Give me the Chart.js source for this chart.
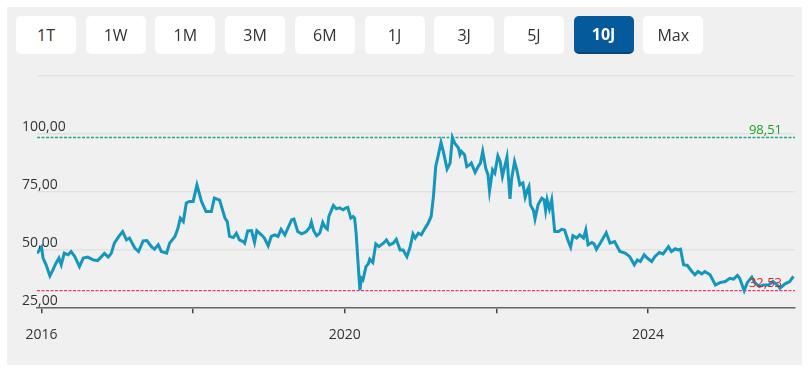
<!DOCTYPE html>
<html lang="de">
<head>
<meta charset="utf-8">
<title>Kursverlauf 10J</title>
<script src="https://cdn.jsdelivr.net/npm/chart.js@4.4.1/dist/chart.umd.min.js"></script>
<style>
    html, body { margin: 0; padding: 0; background: #fff; }
    body { width: 809px; height: 370px; position: relative; overflow: hidden; font-family: "Open Sans", sans-serif; }
    #panel { position: absolute; left: 7px; top: 7px; width: 795px; height: 358px; background: #f0f0f0; }
    #chart { position: absolute; left: 0; top: 0; }
    .range-btn {
        position: absolute; top: 16px; width: 60px; height: 38px;
        background: #fff; border-radius: 5px; color: #333;
        font-size: 16px; line-height: 38px; text-align: center;
    }
    .range-btn.active {
        background: #055a9b; color: #fff; font-weight: 700;
        height: 36px; line-height: 37px; border-bottom: 2px solid #0a4479;
    }
</style>
</head>
<body>
<div id="panel"></div>
<canvas id="chart" width="809" height="370"></canvas>
<div id="buttons"></div>

<script>
// Zeitraum-Buttons
const ranges = ['1T', '1W', '1M', '3M', '6M', '1J', '3J', '5J', '10J', 'Max'];
const activeRange = '10J';

// Kursdaten (Jahr als Dezimalzahl, Kurs)
const years = [
    2015.94, 2016.00, 2016.02, 2016.06, 2016.11, 2016.15, 2016.19, 2016.23, 2016.26, 2016.30,
    2016.35, 2016.39, 2016.44, 2016.50, 2016.55, 2016.61, 2016.68, 2016.74, 2016.79, 2016.83,
    2016.88, 2016.92, 2016.96, 2017.02, 2017.07, 2017.12, 2017.16, 2017.23, 2017.28, 2017.34,
    2017.39, 2017.45, 2017.49, 2017.54, 2017.58, 2017.65, 2017.69, 2017.76, 2017.80, 2017.83,
    2017.87, 2017.91, 2017.95, 2018.00, 2018.05, 2018.11, 2018.17, 2018.24, 2018.28, 2018.35,
    2018.42, 2018.45, 2018.48, 2018.53, 2018.57, 2018.61, 2018.66, 2018.68, 2018.72, 2018.77,
    2018.81, 2018.84, 2018.90, 2018.94, 2018.99, 2019.03, 2019.08, 2019.12, 2019.16, 2019.21,
    2019.25, 2019.30, 2019.33, 2019.38, 2019.43, 2019.49, 2019.54, 2019.56, 2019.59, 2019.63,
    2019.67, 2019.71, 2019.74, 2019.77, 2019.79, 2019.85, 2019.89, 2019.93, 2019.98, 2020.01,
    2020.04, 2020.08, 2020.11, 2020.13, 2020.15, 2020.17, 2020.20, 2020.22, 2020.24, 2020.28,
    2020.31, 2020.33, 2020.37, 2020.41, 2020.45, 2020.51, 2020.55, 2020.59, 2020.64, 2020.68,
    2020.73, 2020.77, 2020.82, 2020.86, 2020.90, 2020.93, 2020.97, 2021.01, 2021.06, 2021.10,
    2021.14, 2021.17, 2021.20, 2021.23, 2021.27, 2021.30, 2021.35, 2021.39, 2021.42, 2021.45,
    2021.50, 2021.52, 2021.54, 2021.58, 2021.61, 2021.65, 2021.67, 2021.72, 2021.76, 2021.79,
    2021.82, 2021.86, 2021.89, 2021.91, 2021.95, 2021.98, 2022.02, 2022.05, 2022.08, 2022.11,
    2022.14, 2022.18, 2022.20, 2022.24, 2022.27, 2022.31, 2022.35, 2022.38, 2022.41, 2022.43,
    2022.45, 2022.49, 2022.51, 2022.55, 2022.60, 2022.63, 2022.65, 2022.67, 2022.70, 2022.73,
    2022.77, 2022.82, 2022.86, 2022.90, 2022.95, 2022.98, 2023.01, 2023.06, 2023.10, 2023.15,
    2023.18, 2023.21, 2023.26, 2023.29, 2023.32, 2023.37, 2023.41, 2023.45, 2023.50, 2023.56,
    2023.63, 2023.70, 2023.76, 2023.82, 2023.86, 2023.90, 2023.95, 2023.99, 2024.05, 2024.09,
    2024.15, 2024.20, 2024.27, 2024.31, 2024.36, 2024.40, 2024.43, 2024.47, 2024.52, 2024.58,
    2024.62, 2024.66, 2024.71, 2024.75, 2024.82, 2024.89, 2024.95, 2025.02, 2025.08, 2025.13,
    2025.18, 2025.21, 2025.27, 2025.31, 2025.37, 2025.41, 2025.47, 2025.52, 2025.59, 2025.65,
    2025.72, 2025.74, 2025.81, 2025.87, 2025.92
];
const prices = [
    48.6, 51.3, 46.6, 43.7, 38.9, 41.5, 44.4, 46.6, 43.7, 48.7,
    48.0, 49.4, 47.2, 42.9, 46.6, 47.0, 45.8, 45.5, 47.2, 48.6,
    47.0, 48.6, 53.0, 55.9, 58.0, 54.4, 55.2, 50.9, 49.4, 54.0,
    54.1, 51.5, 50.4, 52.3, 49.4, 48.7, 53.0, 55.9, 59.5, 63.8,
    62.3, 70.3, 71.0, 71.0, 78.1, 71.0, 66.6, 66.6, 72.4, 71.5,
    63.8, 62.3, 55.9, 55.4, 57.3, 54.4, 53.7, 53.0, 58.3, 58.4,
    53.3, 58.4, 56.6, 55.2, 51.9, 55.9, 56.6, 55.9, 59.0, 56.6,
    59.5, 63.1, 63.4, 58.0, 57.0, 57.9, 59.9, 62.1, 58.4, 56.2,
    57.3, 61.9, 59.9, 59.0, 64.5, 69.2, 67.8, 68.2, 67.4, 68.1,
    68.4, 63.8, 64.5, 63.8, 57.3, 47.2, 32.8, 37.9, 37.2, 42.9,
    44.1, 46.1, 44.7, 52.7, 51.5, 53.0, 54.4, 52.3, 53.0, 54.7,
    50.1, 50.1, 47.2, 51.0, 57.0, 55.2, 57.3, 56.6, 59.5, 61.6,
    64.5, 73.1, 86.0, 90.3, 96.4, 92.5, 84.9, 87.5, 98.51, 96.1,
    94.0, 91.1, 92.5, 91.1, 86.0, 86.8, 87.5, 83.5, 86.0, 87.5,
    92.5, 85.3, 82.4, 75.5, 84.6, 83.2, 90.6, 88.2, 81.7, 86.0,
    90.1, 72.1, 80.3, 88.2, 84.6, 78.1, 78.9, 72.8, 76.0, 77.4,
    69.5, 67.1, 63.4, 69.5, 72.4, 71.7, 67.1, 71.7, 67.7, 71.7,
    58.0, 58.0, 59.0, 58.7, 53.7, 51.3, 56.2, 55.2, 56.6, 55.2,
    58.7, 52.3, 53.3, 52.7, 50.4, 53.0, 55.2, 57.5, 53.0, 53.7,
    49.4, 48.7, 47.2, 43.7, 45.8, 45.1, 48.0, 46.6, 45.1, 47.2,
    49.0, 48.4, 51.5, 49.4, 50.6, 50.1, 50.4, 43.7, 43.4, 40.8,
    39.4, 40.8, 39.8, 40.8, 39.4, 35.0, 36.0, 36.5, 37.9, 37.5,
    39.1, 37.9, 32.53, 36.0, 38.4, 36.0, 34.3, 35.0, 35.0, 36.5,
    34.6, 33.6, 35.5, 36.5, 38.7
];

// Achsen
const yTicks = [25, 50, 75, 100, 125];
const xTicks = [2016, 2018, 2020, 2022, 2024];
const xLabelYears = [2016, 2020, 2024];
const xMin = 2015.94;
const xMax = 2025.94;

// Hoch / Tief im Zeitraum
const periodHigh = 98.51;
const periodLow = 32.53;

function formatDE(v) {
    return v.toFixed(2).replace('.', ',');
}

// Buttons erzeugen
const btnBox = document.getElementById('buttons');
ranges.forEach((r, i) => {
    const b = document.createElement('div');
    b.className = 'range-btn' + (r === activeRange ? ' active' : '');
    b.style.left = (16 + i * 69.7) + 'px';
    b.textContent = r;
    btnBox.appendChild(b);
});

// Y-Beschriftung ueber den Gitterlinien, Hoch/Tief rechts
const chartLabels = {
    id: 'chartLabels',
    afterDatasetsDraw(chart) {
        const { ctx, chartArea, scales } = chart;
        ctx.save();
        ctx.textBaseline = 'alphabetic';

        // Y-Achse
        ctx.font = '14px "Open Sans", sans-serif';
        ctx.textAlign = 'left';
        ctx.fillStyle = '#333';
        scales.y.ticks.forEach(t => {
            if (t.value === 125) return;
            ctx.fillText(formatDE(t.value), chartArea.left - 15, scales.y.getPixelForValue(t.value) - 3);
        });

        // Hoch / Tief
        ctx.font = '13px "Open Sans", sans-serif';
        ctx.textAlign = 'right';
        ctx.fillStyle = '#22a022';
        ctx.fillText(formatDE(periodHigh), chartArea.right - 13, scales.y.getPixelForValue(periodHigh) - 4);
        ctx.fillStyle = '#e0202a';
        ctx.fillText(formatDE(periodLow), chartArea.right - 13, scales.y.getPixelForValue(periodLow) - 4);
        ctx.restore();
    }
};

const ctx = document.getElementById('chart').getContext('2d');
new Chart(ctx, {
    type: 'line',
    data: {
        datasets: [
            {
                data: years.map((x, i) => ({ x: x, y: prices[i] })),
                borderColor: '#1597bb',
                borderWidth: 3,
                pointRadius: 0,
                tension: 0,
                order: 0
            },
            {
                data: [{ x: xMin, y: periodHigh }, { x: xMax, y: periodHigh }],
                borderColor: '#27a68b',
                borderWidth: 1.3,
                borderDash: [3, 1.5],
                pointRadius: 0,
                order: 1
            },
            {
                data: [{ x: xMin, y: periodLow }, { x: xMax, y: periodLow }],
                borderColor: '#e53a70',
                borderWidth: 1.3,
                borderDash: [3, 1.5],
                pointRadius: 0,
                order: 1
            }
        ]
    },
    options: {
        responsive: false,
        animation: false,
        layout: { padding: { left: 37, right: 14, top: 76, bottom: 14 } },
        plugins: {
            legend: { display: false },
            tooltip: { enabled: false }
        },
        scales: {
            x: {
                type: 'linear',
                min: xMin,
                max: xMax,
                afterBuildTicks: (scale) => { scale.ticks = xTicks.map(v => ({ value: v })); },
                ticks: {
                    autoSkip: false,
                    maxRotation: 0,
                    padding: 13,
                    color: '#333',
                    font: { family: '"Open Sans", sans-serif', size: 14 },
                    callback: (v) => xLabelYears.includes(v) ? String(v) : ''
                },
                grid: { display: true, drawOnChartArea: false, drawTicks: true, tickLength: 5, color: '#444', lineWidth: 1.5 },
                border: { display: true, color: '#666', width: 1.5 }
            },
            y: {
                min: 25,
                max: 125,
                afterBuildTicks: (scale) => { scale.ticks = yTicks.map(v => ({ value: v })); },
                ticks: { display: false },
                grid: { color: '#e2e2e2', lineWidth: 1.5, drawTicks: false },
                border: { display: false }
            }
        }
    },
    plugins: [chartLabels]
});
</script>
</body>
</html>
